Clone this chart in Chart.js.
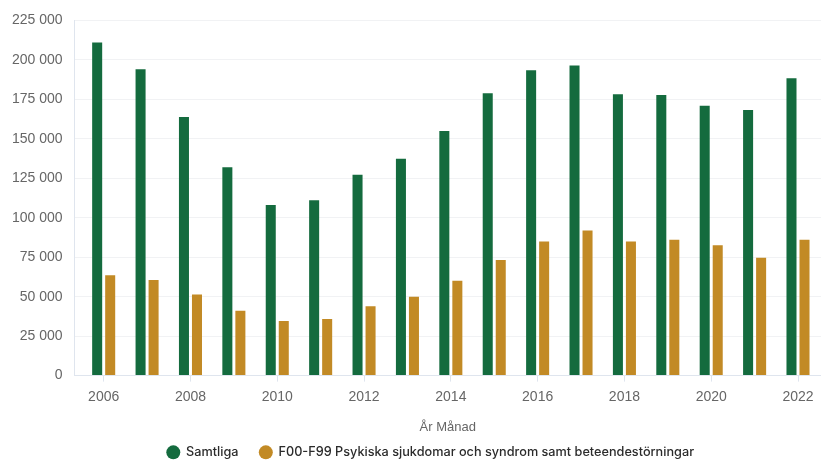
<!DOCTYPE html>
<html>
<head>
<meta charset="utf-8">
<script src="https://cdn.jsdelivr.net/npm/chart.js@4.4.0/dist/chart.umd.min.js"></script>
<style>
    body { margin: 0; background: #fff; }
</style>
</head>
<body>
<canvas id="chart" width="821" height="462"></canvas>
<script>
const years = [2006, 2007, 2008, 2009, 2010, 2011, 2012, 2013, 2014, 2015, 2016, 2017, 2018, 2019, 2020, 2021, 2022];
const samtliga = [211000, 194000, 163800, 132000, 108000, 111000, 127200, 137300, 154900, 178900, 193500, 196500, 178200, 177800, 171000, 168200, 188300];
const psykiska = [63500, 60600, 51300, 41000, 34600, 35800, 44000, 49900, 60100, 73200, 85000, 91900, 85000, 86000, 82600, 74700, 86000];

const gridColor = "#f1f2f4";
const axisColor = "#dfe5ee";
const textColor = "#666666";
const fontFamily = "'Liberation Sans', Arial, sans-serif";

// legend sits a bit right of canvas centre in the original
const shiftLegend = {
    id: 'shiftLegend',
    afterLayout(chart) {
        chart.legend.left += 20;
        chart.legend.right += 20;
    }
};

const ctx = document.getElementById("chart");
const graph = new Chart(ctx, {
    type: 'bar',
    data: {
        datasets: [
            {
                label: "Samtliga",
                backgroundColor: "#146b3e",
                data: years.map((y, i) => ({x: y, y: samtliga[i]})),
                categoryPercentage: 0.6,
                barPercentage: 0.77
            },
            {
                label: "F00-F99 Psykiska sjukdomar och syndrom samt beteendestörningar",
                backgroundColor: "#c28a25",
                data: years.map((y, i) => ({x: y, y: psykiska[i]})),
                categoryPercentage: 0.6,
                barPercentage: 0.77
            }
        ]
    },
    plugins: [shiftLegend],
    options: {
        responsive: false,
        animation: false,
        devicePixelRatio: 1,
        layout: {
            padding: {left: 0, right: 0, top: 11, bottom: 0}
        },
        plugins: {
            legend: {
                position: 'bottom',
                labels: {
                    usePointStyle: true,
                    pointStyle: 'circle',
                    boxWidth: 13,
                    boxHeight: 9.9,
                    padding: 21,
                    color: "#2b2b2b",
                    font: {family: "Inter, sans-serif", size: 12.7, weight: 500}
                }
            },
            tooltip: {enabled: false}
        },
        scales: {
            x: {
                type: 'linear',
                min: 2005.33,
                max: 2022.53,
                offset: false,
                grid: {
                    offset: false,
                    drawOnChartArea: false,
                    drawTicks: true,
                    tickLength: 6,
                    color: axisColor
                },
                border: {color: axisColor},
                ticks: {
                    stepSize: 2,
                    includeBounds: false,
                    color: textColor,
                    padding: 7,
                    font: {family: fontFamily, size: 14},
                    callback: (v) => String(v)
                },
                title: {
                    display: true,
                    text: "År Månad",
                    color: textColor,
                    padding: {top: 7, bottom: -10},
                    font: {family: "'Liberation Sans Narrow', 'Liberation Sans', sans-serif", size: 13}
                }
            },
            y: {
                min: 0,
                max: 225000,
                grid: {
                    color: gridColor,
                    drawTicks: false
                },
                border: {color: axisColor},
                ticks: {
                    stepSize: 25000,
                    padding: 12,
                    color: textColor,
                    font: {family: fontFamily, size: 14},
                    callback: (v) => v.toString().replace(/\B(?=(\d{3})+(?!\d))/g, " ")
                }
            }
        }
    }
});

// the legend needs wide gaps between items but little room above and below
const legendFit = graph.legend.fit;
graph.legend.fit = function () {
    legendFit.call(this);
    this.height = 37;
};
graph.update();
</script>
</body>
</html>
